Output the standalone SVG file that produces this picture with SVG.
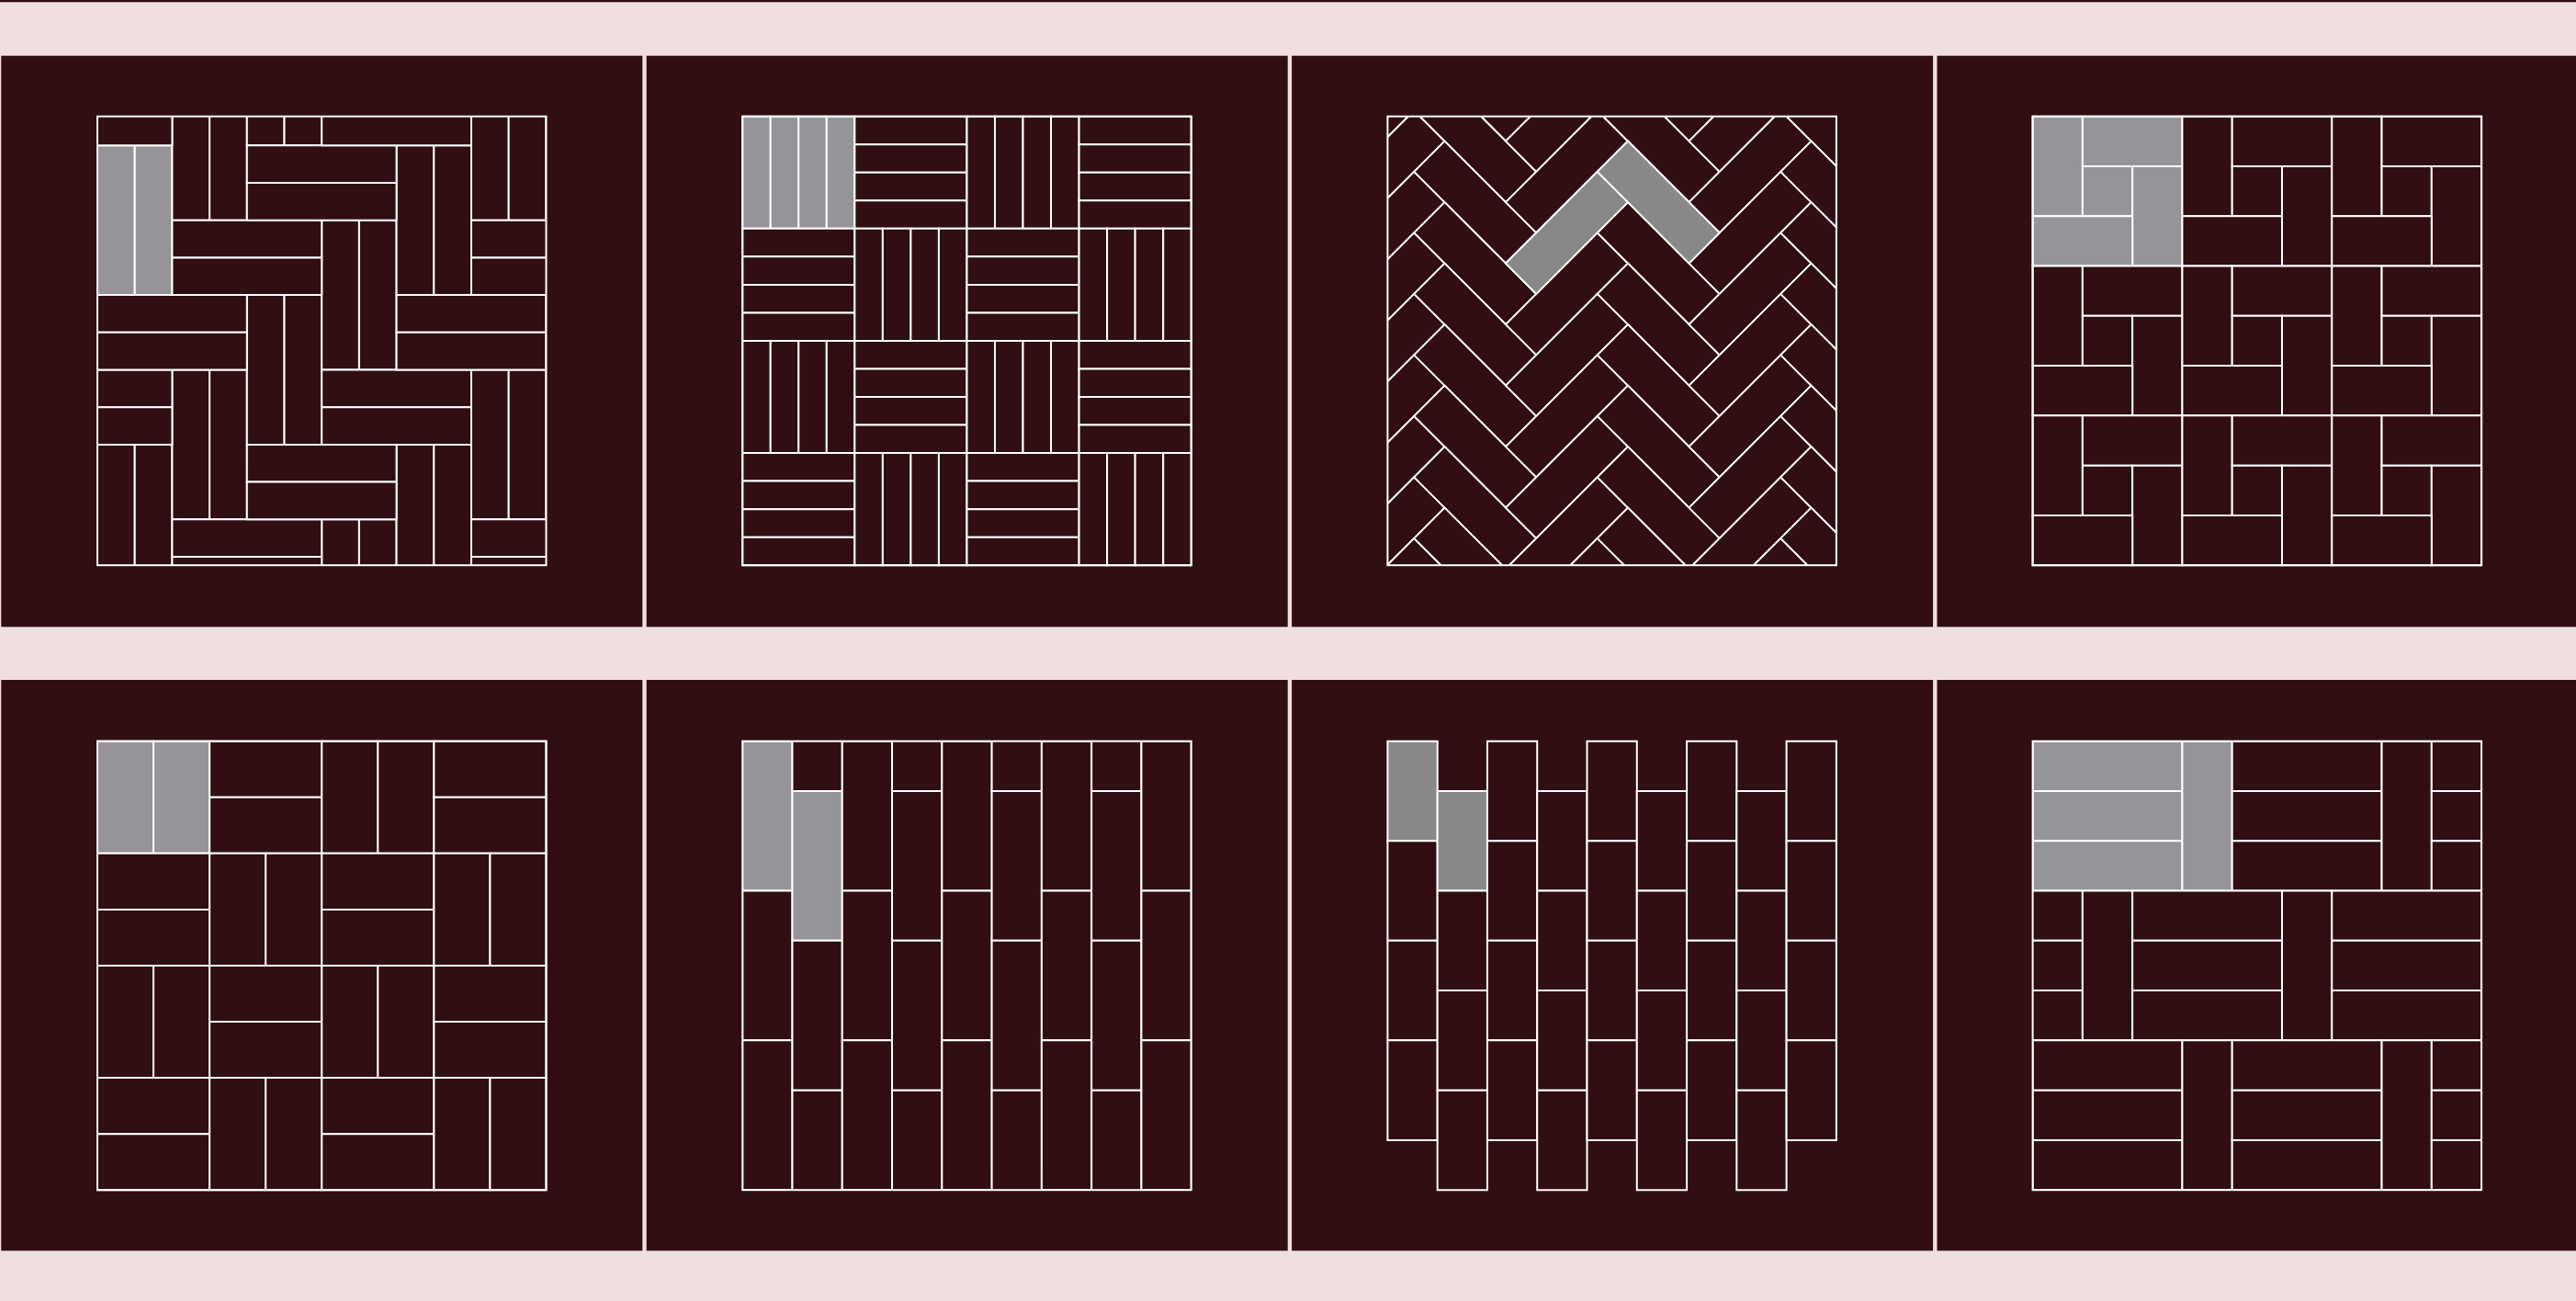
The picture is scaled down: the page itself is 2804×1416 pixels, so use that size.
<svg xmlns="http://www.w3.org/2000/svg" width="2804" height="1416" viewBox="0 0 2804 1416">
<style>
.bg{fill:#f0dfe0}
.pn{fill:#300e11}
.dk{fill:#300e11}
.gy{fill:#969498}
.g2{fill:#888888}
.t{stroke:#ffffff;stroke-width:2;vector-effect:non-scaling-stroke}
.bd{fill:none;stroke:#ffffff;stroke-width:2}
</style>
<defs>
<clipPath id="c1"><rect x="106" y="126.7" width="488.5" height="488.5"/></clipPath>
<clipPath id="c3"><rect x="1510.4" y="126.7" width="488.5" height="488.5"/></clipPath>
<clipPath id="c6"><rect x="808.2" y="806.7" width="488.5" height="488.5"/></clipPath>
<clipPath id="c8"><rect x="2212.6" y="806.7" width="488.5" height="488.5"/></clipPath>
<g id="v4"><rect class="t" x="0" y="0" width="0.25" height="1"/><rect class="t" x="0.25" y="0" width="0.25" height="1"/><rect class="t" x="0.5" y="0" width="0.25" height="1"/><rect class="t" x="0.75" y="0" width="0.25" height="1"/></g>
<g id="h4"><rect class="t" x="0" y="0" width="1" height="0.25"/><rect class="t" x="0" y="0.25" width="1" height="0.25"/><rect class="t" x="0" y="0.5" width="1" height="0.25"/><rect class="t" x="0" y="0.75" width="1" height="0.25"/></g>
<g id="v2"><rect class="t" x="0" y="0" width="0.5" height="1"/><rect class="t" x="0.5" y="0" width="0.5" height="1"/></g>
<g id="h2"><rect class="t" x="0" y="0" width="1" height="0.5"/><rect class="t" x="0" y="0.5" width="1" height="0.5"/></g>
<g id="pw"><rect class="t" x="0" y="0" width="1" height="2"/><rect class="t" x="1" y="0" width="2" height="1"/><rect class="t" x="1" y="1" width="1" height="1"/><rect class="t" x="2" y="1" width="1" height="2"/><rect class="t" x="0" y="2" width="2" height="1"/></g>
<g id="h3"><rect class="t" x="0" y="0" width="3" height="1"/><rect class="t" x="0" y="1" width="3" height="1"/><rect class="t" x="0" y="2" width="3" height="1"/></g>
<g id="v3"><rect class="t" x="0" y="0" width="1" height="3"/></g>
<g id="chev"><polygon class="t" points="0,0 99.75,-99.75 133,-66.5 33.25,33.25"/><polygon class="t" points="99.75,-99.75 133,-133 232.75,-33.25 199.5,0"/></g>
<g id="hcol"><use href="#chev" y="-199.5"/><use href="#chev" y="-133"/><use href="#chev" y="-66.5"/><use href="#chev" y="0"/><use href="#chev" y="66.5"/><use href="#chev" y="133"/><use href="#chev" y="199.5"/><use href="#chev" y="266"/><use href="#chev" y="332.5"/><use href="#chev" y="399"/><use href="#chev" y="465.5"/></g>
</defs>

<rect class="bg" x="0" y="0" width="2804" height="1416"/>
<rect class="pn" x="0" y="0" width="2804" height="2.3"/>

<g id="panels">
<rect class="pn" x="1.3" y="60.7" width="698" height="621.6"/>
<rect class="pn" x="703.7" y="60.7" width="698" height="621.6"/>
<rect class="pn" x="1406.1" y="60.7" width="698" height="621.6"/>
<rect class="pn" x="2108.5" y="60.7" width="698" height="621.6"/>
<rect class="pn" x="1.3" y="740" width="698" height="621.3"/>
<rect class="pn" x="703.7" y="740" width="698" height="621.3"/>
<rect class="pn" x="1406.1" y="740" width="698" height="621.3"/>
<rect class="pn" x="2108.5" y="740" width="698" height="621.3"/>
</g>

<g id="pattern1">
<g clip-path="url(#c1)">
<g class="dk" transform="translate(106,158.3) scale(40.7)">
<rect class="t gy" x="0" y="0" width="1" height="4"/><rect class="t gy" x="1" y="0" width="1" height="4"/>
<rect class="t" x="0" y="8" width="1" height="4"/><rect class="t" x="1" y="8" width="1" height="4"/>
<rect class="t" x="2" y="-2" width="1" height="4"/><rect class="t" x="3" y="-2" width="1" height="4"/>
<rect class="t" x="2" y="6" width="1" height="4"/><rect class="t" x="3" y="6" width="1" height="4"/>
<rect class="t" x="4" y="-4" width="1" height="4"/><rect class="t" x="5" y="-4" width="1" height="4"/>
<rect class="t" x="4" y="4" width="1" height="4"/><rect class="t" x="5" y="4" width="1" height="4"/>
<rect class="t" x="6" y="2" width="1" height="4"/><rect class="t" x="7" y="2" width="1" height="4"/>
<rect class="t" x="6" y="10" width="1" height="4"/><rect class="t" x="7" y="10" width="1" height="4"/>
<rect class="t" x="8" y="0" width="1" height="4"/><rect class="t" x="9" y="0" width="1" height="4"/>
<rect class="t" x="8" y="8" width="1" height="4"/><rect class="t" x="9" y="8" width="1" height="4"/>
<rect class="t" x="10" y="-2" width="1" height="4"/><rect class="t" x="11" y="-2" width="1" height="4"/>
<rect class="t" x="10" y="6" width="1" height="4"/><rect class="t" x="11" y="6" width="1" height="4"/>
<rect class="t" x="-2" y="-2" width="4" height="1"/><rect class="t" x="-2" y="-1" width="4" height="1"/>
<rect class="t" x="-2" y="6" width="4" height="1"/><rect class="t" x="-2" y="7" width="4" height="1"/>
<rect class="t" x="0" y="4" width="4" height="1"/><rect class="t" x="0" y="5" width="4" height="1"/>
<rect class="t" x="2" y="2" width="4" height="1"/><rect class="t" x="2" y="3" width="4" height="1"/>
<rect class="t" x="2" y="10" width="4" height="1"/><rect class="t" x="2" y="11" width="4" height="1"/>
<rect class="t" x="4" y="0" width="4" height="1"/><rect class="t" x="4" y="1" width="4" height="1"/>
<rect class="t" x="4" y="8" width="4" height="1"/><rect class="t" x="4" y="9" width="4" height="1"/>
<rect class="t" x="6" y="-2" width="4" height="1"/><rect class="t" x="6" y="-1" width="4" height="1"/>
<rect class="t" x="6" y="6" width="4" height="1"/><rect class="t" x="6" y="7" width="4" height="1"/>
<rect class="t" x="8" y="4" width="4" height="1"/><rect class="t" x="8" y="5" width="4" height="1"/>
<rect class="t" x="10" y="2" width="4" height="1"/><rect class="t" x="10" y="3" width="4" height="1"/>
<rect class="t" x="10" y="10" width="4" height="1"/><rect class="t" x="10" y="11" width="4" height="1"/>
</g>
</g>
<rect class="bd" x="106" y="126.7" width="488.5" height="488.5"/>
</g>

<g id="pattern2">
<g class="dk" transform="translate(808.2,126.7) scale(122.125)">
<use href="#v4" class="gy" x="0" y="0"/><use href="#h4" x="1" y="0"/><use href="#v4" x="2" y="0"/><use href="#h4" x="3" y="0"/>
<use href="#h4" x="0" y="1"/><use href="#v4" x="1" y="1"/><use href="#h4" x="2" y="1"/><use href="#v4" x="3" y="1"/>
<use href="#v4" x="0" y="2"/><use href="#h4" x="1" y="2"/><use href="#v4" x="2" y="2"/><use href="#h4" x="3" y="2"/>
<use href="#h4" x="0" y="3"/><use href="#v4" x="1" y="3"/><use href="#h4" x="2" y="3"/><use href="#v4" x="3" y="3"/>
</g>
<rect class="bd" x="808.2" y="126.7" width="488.5" height="488.5"/>
</g>

<g id="pattern3">
<g clip-path="url(#c3)">
<g class="dk">
<use href="#hcol" x="1439.5" y="286.6"/>
<use href="#hcol" x="1639" y="286.6"/>
<use href="#hcol" x="1838.5" y="286.6"/>
<use href="#chev" class="g2" x="1639" y="286.6"/>
</g>
</g>
<rect class="bd" x="1510.4" y="126.7" width="488.5" height="488.5"/>
</g>

<g id="pattern4">
<g class="dk" transform="translate(2212.6,126.7) scale(54.278)">
<use href="#pw" class="gy" x="0" y="0"/><use href="#pw" x="3" y="0"/><use href="#pw" x="6" y="0"/>
<use href="#pw" x="0" y="3"/><use href="#pw" x="3" y="3"/><use href="#pw" x="6" y="3"/>
<use href="#pw" x="0" y="6"/><use href="#pw" x="3" y="6"/><use href="#pw" x="6" y="6"/>
</g>
<rect class="bd" x="2212.6" y="126.7" width="488.5" height="488.5"/>
</g>

<g id="pattern5">
<g class="dk" transform="translate(106,806.7) scale(122.125)">
<use href="#v2" class="gy" x="0" y="0"/><use href="#h2" x="1" y="0"/><use href="#v2" x="2" y="0"/><use href="#h2" x="3" y="0"/>
<use href="#h2" x="0" y="1"/><use href="#v2" x="1" y="1"/><use href="#h2" x="2" y="1"/><use href="#v2" x="3" y="1"/>
<use href="#v2" x="0" y="2"/><use href="#h2" x="1" y="2"/><use href="#v2" x="2" y="2"/><use href="#h2" x="3" y="2"/>
<use href="#h2" x="0" y="3"/><use href="#v2" x="1" y="3"/><use href="#h2" x="2" y="3"/><use href="#v2" x="3" y="3"/>
</g>
<rect class="bd" x="106" y="806.7" width="488.5" height="488.5"/>
</g>

<g id="pattern6">
<g clip-path="url(#c6)">
<g class="dk" transform="translate(808.2,806.7) scale(54.278)">
<rect class="t gy" x="0" y="0" width="1" height="3"/><rect class="t" x="0" y="3" width="1" height="3"/><rect class="t" x="0" y="6" width="1" height="3"/>
<rect class="t" x="1" y="-2" width="1" height="3"/><rect class="t gy" x="1" y="1" width="1" height="3"/><rect class="t" x="1" y="4" width="1" height="3"/><rect class="t" x="1" y="7" width="1" height="3"/>
<rect class="t" x="2" y="0" width="1" height="3"/><rect class="t" x="2" y="3" width="1" height="3"/><rect class="t" x="2" y="6" width="1" height="3"/>
<rect class="t" x="3" y="-2" width="1" height="3"/><rect class="t" x="3" y="1" width="1" height="3"/><rect class="t" x="3" y="4" width="1" height="3"/><rect class="t" x="3" y="7" width="1" height="3"/>
<rect class="t" x="4" y="0" width="1" height="3"/><rect class="t" x="4" y="3" width="1" height="3"/><rect class="t" x="4" y="6" width="1" height="3"/>
<rect class="t" x="5" y="-2" width="1" height="3"/><rect class="t" x="5" y="1" width="1" height="3"/><rect class="t" x="5" y="4" width="1" height="3"/><rect class="t" x="5" y="7" width="1" height="3"/>
<rect class="t" x="6" y="0" width="1" height="3"/><rect class="t" x="6" y="3" width="1" height="3"/><rect class="t" x="6" y="6" width="1" height="3"/>
<rect class="t" x="7" y="-2" width="1" height="3"/><rect class="t" x="7" y="1" width="1" height="3"/><rect class="t" x="7" y="4" width="1" height="3"/><rect class="t" x="7" y="7" width="1" height="3"/>
<rect class="t" x="8" y="0" width="1" height="3"/><rect class="t" x="8" y="3" width="1" height="3"/><rect class="t" x="8" y="6" width="1" height="3"/>
</g>
</g>
<rect class="bd" x="808.2" y="806.7" width="488.5" height="488.5"/>
</g>

<g id="pattern7">
<g class="dk" transform="translate(1510.4,806.7) scale(54.278)">
<rect class="t g2" x="0" y="0" width="1" height="2"/><rect class="t" x="0" y="2" width="1" height="2"/><rect class="t" x="0" y="4" width="1" height="2"/><rect class="t" x="0" y="6" width="1" height="2"/>
<rect class="t g2" x="1" y="1" width="1" height="2"/><rect class="t" x="1" y="3" width="1" height="2"/><rect class="t" x="1" y="5" width="1" height="2"/><rect class="t" x="1" y="7" width="1" height="2"/>
<rect class="t" x="2" y="0" width="1" height="2"/><rect class="t" x="2" y="2" width="1" height="2"/><rect class="t" x="2" y="4" width="1" height="2"/><rect class="t" x="2" y="6" width="1" height="2"/>
<rect class="t" x="3" y="1" width="1" height="2"/><rect class="t" x="3" y="3" width="1" height="2"/><rect class="t" x="3" y="5" width="1" height="2"/><rect class="t" x="3" y="7" width="1" height="2"/>
<rect class="t" x="4" y="0" width="1" height="2"/><rect class="t" x="4" y="2" width="1" height="2"/><rect class="t" x="4" y="4" width="1" height="2"/><rect class="t" x="4" y="6" width="1" height="2"/>
<rect class="t" x="5" y="1" width="1" height="2"/><rect class="t" x="5" y="3" width="1" height="2"/><rect class="t" x="5" y="5" width="1" height="2"/><rect class="t" x="5" y="7" width="1" height="2"/>
<rect class="t" x="6" y="0" width="1" height="2"/><rect class="t" x="6" y="2" width="1" height="2"/><rect class="t" x="6" y="4" width="1" height="2"/><rect class="t" x="6" y="6" width="1" height="2"/>
<rect class="t" x="7" y="1" width="1" height="2"/><rect class="t" x="7" y="3" width="1" height="2"/><rect class="t" x="7" y="5" width="1" height="2"/><rect class="t" x="7" y="7" width="1" height="2"/>
<rect class="t" x="8" y="0" width="1" height="2"/><rect class="t" x="8" y="2" width="1" height="2"/><rect class="t" x="8" y="4" width="1" height="2"/><rect class="t" x="8" y="6" width="1" height="2"/>
</g>
</g>

<g id="pattern8">
<g clip-path="url(#c8)">
<g class="dk" transform="translate(2212.6,806.7) scale(54.278)">
<use href="#h3" class="gy" x="0" y="0"/><use href="#v3" class="gy" x="3" y="0"/><use href="#h3" x="4" y="0"/><use href="#v3" x="7" y="0"/><use href="#h3" x="8" y="0"/>
<use href="#h3" x="-2" y="3"/><use href="#v3" x="1" y="3"/><use href="#h3" x="2" y="3"/><use href="#v3" x="5" y="3"/><use href="#h3" x="6" y="3"/>
<use href="#h3" x="0" y="6"/><use href="#v3" x="3" y="6"/><use href="#h3" x="4" y="6"/><use href="#v3" x="7" y="6"/><use href="#h3" x="8" y="6"/>
</g>
</g>
<rect class="bd" x="2212.6" y="806.7" width="488.5" height="488.5"/>
</g>
</svg>
